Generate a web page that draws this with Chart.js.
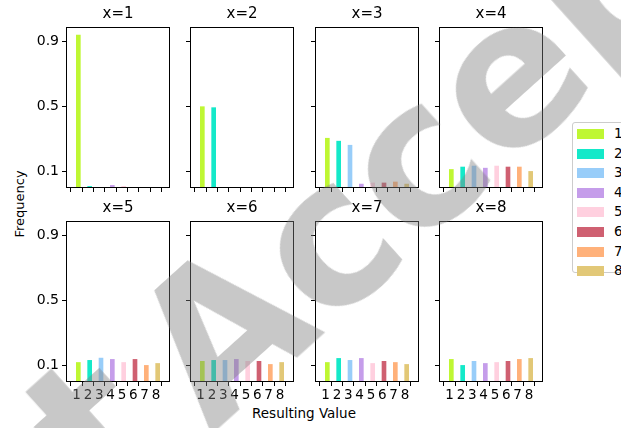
<!DOCTYPE html>
<html>
<head>
<meta charset="utf-8">
<script src="https://cdn.jsdelivr.net/npm/chart.js@4/dist/chart.umd.min.js"></script>
<style>
  body { margin:0; width:621px; height:428px; overflow:hidden; background:#fff; position:relative; font-family:"DejaVu Sans", sans-serif; }
  .panel { position:absolute; }
  #legend { position:absolute; left:572px; top:122px; width:80px; height:151px; border:1px solid #ccc; border-radius:3px; background:#fff; box-sizing:border-box; }
  .item { position:absolute; left:4px; height:10px; font-size:13.5px; color:#000; }
  .sw { position:absolute; left:0; top:0; width:27px; height:10px; }
  .lab { position:absolute; left:37px; top:-4px; }
  #ylab { position:absolute; left:19px; top:204px; font-size:13px; color:#000; transform:translate(-50%,-50%) rotate(-90deg); white-space:nowrap; }
  #xlab { position:absolute; left:304px; top:413px; font-size:13.5px; color:#000; transform:translate(-50%,-50%); white-space:nowrap; }
  .wm { position:absolute; font-size:200px; font-weight:bold; line-height:1; color:rgba(128,128,128,0.43); transform-origin:0 0; transform:rotate(-42deg); white-space:nowrap; pointer-events:none; }
</style>
</head>
<body>
<div id="legend"></div>
<div id="ylab">Frequency</div>
<div id="xlab">Resulting Value</div>
<div class="wm" id="wm" style="left:98px; top:310px;">Accept</div>
<div class="wm" style="left:-507px; top:833px;">Accept</div>
<script>
// values 1..8, one panel per x
var categories = [1, 2, 3, 4, 5, 6, 7, 8];
var panelTitles = ["x=1", "x=2", "x=3", "x=4", "x=5", "x=6", "x=7", "x=8"];
var yTicks = [0.1, 0.5, 0.9];
var colors = ['#bff733', '#14e9c9', '#98cdf9', '#c59dea', '#ffd0df', '#cf6071', '#ffb17a', '#e2c877'];

var freqX1 = [0.941, 0.010, 0.004, 0.016, 0.010, 0.004, 0.002, 0.004];
var freqX2 = [0.500, 0.494, 0.001, 0.001, 0.001, 0.002, 0.001, 0.001];
var freqX3 = [0.306, 0.288, 0.263, 0.024, 0.031, 0.031, 0.037, 0.024];
var freqX4 = [0.114, 0.129, 0.135, 0.122, 0.135, 0.129, 0.129, 0.102];
var freqX5 = [0.120, 0.133, 0.147, 0.139, 0.120, 0.139, 0.102, 0.114];
var freqX6 = [0.127, 0.133, 0.133, 0.139, 0.127, 0.127, 0.108, 0.120];
var freqX7 = [0.120, 0.145, 0.133, 0.145, 0.114, 0.127, 0.120, 0.108];
var freqX8 = [0.139, 0.102, 0.127, 0.114, 0.120, 0.127, 0.139, 0.145];

var allFreq = [freqX1, freqX2, freqX3, freqX4, freqX5, freqX6, freqX7, freqX8];

// plot area corners
var colLeft = [66, 190, 315, 439];
var rowTop = [27, 221];
var plotW = 104, plotH = 161;
var yAxisW = 40, xAxisH = 24, titleH = 26;

var boxPlugin = {
  id: 'box',
  afterDraw: function(chart) {
    var a = chart.chartArea, c = chart.ctx;
    c.save();
    c.strokeStyle = '#000';
    c.lineWidth = 1;
    c.strokeRect(a.left + 0.5, a.top + 0.5, a.right - a.left - 1, a.bottom - a.top - 1);
    c.restore();
  }
};

allFreq.forEach(function(freq, i) {
  var col = i % 4, row = Math.floor(i / 4);
  var cv = document.createElement('canvas');
  var w = yAxisW + plotW + yAxisW, h = titleH + plotH + xAxisH;
  cv.width = w; cv.height = h;
  var wrap = document.createElement('div');
  wrap.className = 'panel';
  wrap.style.left = (colLeft[col] - yAxisW) + 'px';
  wrap.style.top = (rowTop[row] - titleH) + 'px';
  wrap.style.width = w + 'px';
  wrap.style.height = h + 'px';
  wrap.appendChild(cv);
  document.body.insertBefore(wrap, document.getElementById('wm'));

  var pts = categories.map(function(c, k) { return {x: c + 0.15, y: freq[k]}; });

  new Chart(cv, {
    type: 'bar',
    data: {
      datasets: [{
        data: pts,
        backgroundColor: colors,
        barThickness: 4,
        borderWidth: 0
      }]
    },
    options: {
      responsive: false,
      animation: false,
      layout: { padding: 0 },
      plugins: {
        legend: { display: false },
        tooltip: { enabled: false },
        title: {
          display: true,
          text: panelTitles[i],
          color: '#000',
          font: { family: 'DejaVu Sans', size: 15, weight: 'normal' },
          padding: { top: 4, bottom: 4 }
        }
      },
      scales: {
        x: {
          type: 'linear',
          min: 0.635,
          max: 8.665,
          afterBuildTicks: function(s) { s.ticks = categories.map(function(v) { return {value: v}; }); },
          afterFit: function(s) { s.height = xAxisH; },
          grid: { display: true, drawOnChartArea: false, drawTicks: true, tickLength: 4, color: '#000', tickColor: '#000' },
          border: { display: false },
          ticks: {
            display: row === 1,
            color: '#000',
            padding: 1,
            maxRotation: 0,
            autoSkip: false,
            font: { family: 'DejaVu Sans', size: 13.5 }
          }
        },
        y: {
          min: 0,
          max: 0.99,
          afterBuildTicks: function(s) { s.ticks = yTicks.map(function(v) { return {value: v}; }); },
          afterFit: function(s) { s.width = yAxisW; },
          grid: { display: true, drawOnChartArea: false, drawTicks: true, tickLength: 4, color: '#000', tickColor: '#000' },
          border: { display: false },
          ticks: {
            display: col === 0,
            color: '#000',
            padding: 3,
            font: { family: 'DejaVu Sans', size: 14 },
            callback: function(v) { return v.toFixed(1); }
          }
        },
        // empty right axis, only so the title is centred over the plot
        yPad: {
          position: 'right',
          afterFit: function(s) { s.width = yAxisW; },
          grid: { display: false },
          border: { display: false },
          ticks: { display: false }
        }
      }
    },
    plugins: [boxPlugin]
  });
});

// legend
var lg = document.getElementById('legend');
categories.forEach(function(c, k) {
  var it = document.createElement('div');
  it.className = 'item';
  it.style.top = (6 + k * 19.6) + 'px';
  it.innerHTML = '<div class="sw" style="background:' + colors[k] + '"></div><span class="lab">' + c + '</span>';
  lg.appendChild(it);
});
</script>
</body>
</html>
